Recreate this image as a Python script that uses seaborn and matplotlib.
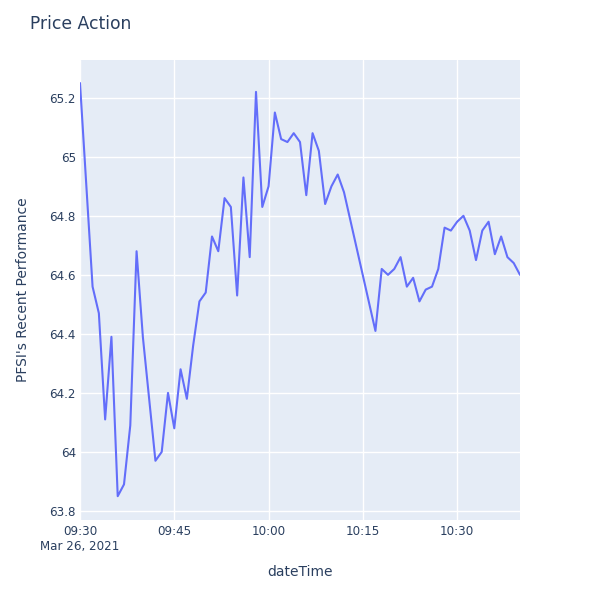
import matplotlib
matplotlib.use("Agg")
import matplotlib.pyplot as plt
import seaborn as sns
import pandas as pd
import numpy as np

# Data (minute offsets from 09:30 on Mar 26, 2021)
minutes = [0, 2, 3, 4, 5, 6, 7, 8, 9, 10, 12, 13, 14, 15, 16, 17, 18, 19, 20,
           21, 22, 23, 24, 25, 26, 27, 28, 29, 30, 31, 32, 33, 34, 35, 36, 37,
           38, 39, 40, 41, 42, 47, 48, 49, 50, 51, 52, 53, 54, 55, 56, 57, 58,
           59, 60, 61, 62, 63, 64, 65, 66, 67, 68, 69, 70]
prices = [65.25, 64.56, 64.47, 64.11, 64.39, 63.85, 63.89, 64.09, 64.68, 64.39,
          63.97, 64.00, 64.20, 64.08, 64.28, 64.18, 64.36, 64.51, 64.54,
          64.73, 64.68, 64.86, 64.83, 64.53, 64.93, 64.66, 65.22, 64.83, 64.90,
          65.15, 65.06, 65.05, 65.08, 65.05, 64.87, 65.08, 65.02, 64.84, 64.90,
          64.94, 64.88, 64.41, 64.62, 64.60, 64.62, 64.66, 64.56, 64.59, 64.51,
          64.55, 64.56, 64.62, 64.76, 64.75, 64.78, 64.80, 64.75, 64.65, 64.75,
          64.78, 64.67, 64.73, 64.66, 64.64, 64.60]
start = "2021-03-26 09:30"
xtick_times = ["09:30", "09:45", "10:00", "10:15", "10:30"]
xtick_labels = ["09:30\nMar 26, 2021", "09:45", "10:00", "10:15", "10:30"]
yticks = [63.8, 64.0, 64.2, 64.4, 64.6, 64.8, 65.0, 65.2]
ytick_labels = ["63.8", "64", "64.2", "64.4", "64.6", "64.8", "65", "65.2"]

df = pd.DataFrame({
    "dateTime": pd.Timestamp(start) + pd.to_timedelta(minutes, unit="m"),
    "price": prices,
})

sns.set_theme(style="darkgrid")
plt.rcParams["font.family"] = ["DejaVu Sans"]
text_color = "#2a3f5f"

fig = plt.figure(figsize=(6, 6), dpi=100)
ax = fig.add_axes([80 / 600, 1 - 519.5 / 600, 440 / 600, 459.5 / 600])
ax.set_facecolor("#E5ECF6")

sns.lineplot(data=df, x="dateTime", y="price", ax=ax, color="#636EFA", linewidth=1.5)

ax.set_xlim(df["dateTime"].min(), df["dateTime"].max())
ax.set_ylim(63.771, 65.328)

xt = [pd.Timestamp("2021-03-26 " + t) for t in xtick_times]
ax.set_xticks(xt)
ax.set_xticklabels(xtick_labels, fontsize=8.6, color=text_color, linespacing=1.15)
ax.set_yticks(yticks)
ax.set_yticklabels(ytick_labels, fontsize=8.6, color=text_color)

ax.grid(True, color="white", linewidth=1)
ax.tick_params(axis="both", length=0)
ax.tick_params(axis="x", pad=4)
ax.tick_params(axis="y", pad=3)
for s in ax.spines.values():
    s.set_visible(False)

ax.set_xlabel("dateTime", fontsize=10, color=text_color)
ax.set_ylabel("PFSI's Recent Performance", fontsize=10, color=text_color)
ax.xaxis.set_label_coords(0.5, -(565 - 519.5) / 459.5)
ax.yaxis.set_label_coords(-(80 - 30) / 440, 0.5)

fig.text(30 / 600, 1 - 24 / 600, "Price Action", fontsize=12.3, color=text_color,
         va="center", ha="left")

fig.savefig("out.png", dpi=100, facecolor="white")
